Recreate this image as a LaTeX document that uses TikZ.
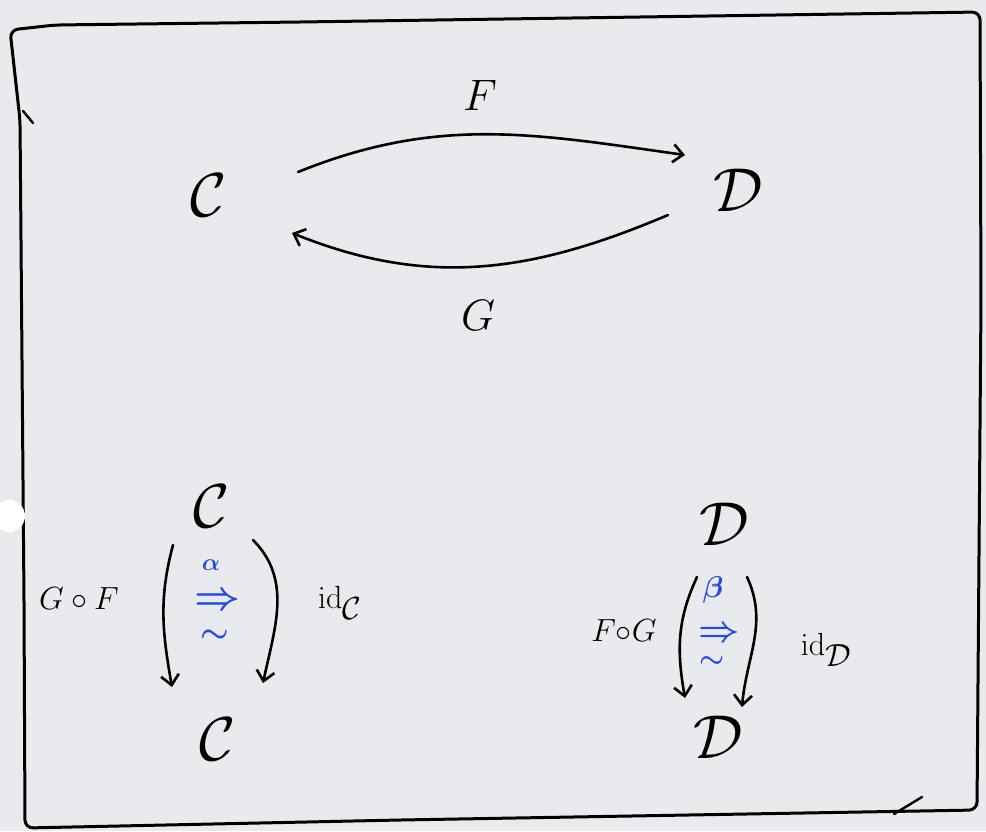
\RequirePackage{fix-cm}
\documentclass[tikz,border=0pt]{standalone}
\usetikzlibrary{arrows.meta}
\definecolor{paper}{RGB}{232,234,237}
\definecolor{inkblue}{RGB}{35,75,225}

\begin{document}
\begin{tikzpicture}[x=1pt, y=-1pt, line width=2.6pt, line cap=round, line join=round,
  cat/.style={anchor=center, inner sep=2pt, font=\fontsize{62}{70}\selectfont},
  lab/.style={anchor=center, inner sep=1pt, font=\fontsize{44}{52}\selectfont},
  comp/.style={anchor=center, inner sep=1pt, font=\fontsize{32}{38}\selectfont},
  nat/.style={anchor=center, inner sep=0pt, text=inkblue, font=\boldmath\fontsize{#1}{#1}\selectfont},
  arr/.style={-{Straight Barb[length=10pt,width=18pt,line width=2.6pt]}},
  ]

  %% ════ 纸面与外框 ════
  \fill[paper] (0,0) rectangle (986,831);
  \draw[line width=3pt, rounded corners=8pt] (10,30) -- (55,25) -- (300,22) -- (980,12) -- (981,300)
    -- (977,810) -- (400,820) -- (25,828) -- (24,600) -- (20,120) -- cycle;
  \draw[line width=2.4pt] (23,111) -- (33,123);      % 左上小勾
  \draw[line width=2.4pt] (894,814) -- (922,797);    % 右下小勾
  \fill[white] (9,516) circle (16);                  % 打孔处

  %% ════ 上半：C 与 D ════
  \node[cat] (C) at (209,195) {$\mathcal{C}$};
  \node[cat] (D) at (738,190) {$\mathcal{D}$};
  \node[lab] (Flab) at (480,95) {$F$};
  \node[lab] (Glab) at (478,315) {$G$};

  \draw[arr] ([shift={(89,-23)}]C.center) to[out=22,in=172] ([shift={(-53,-35)}]D.center);
  \draw[arr] ([shift={(-70,25)}]D.center) to[out=203,in=-22] ([shift={(83,38)}]C.center);

  %% ════ 左下：G∘F ⇒ id_C ════
  \node[cat] (Ct) at (212,506) {$\mathcal{C}$};
  \node[cat] (Cb) at (218,739) {$\mathcal{C}$};
  \node[comp] (GF) at (79,599) {$G\circ F$};
  \node[comp] (idC) at (340,603) {$\mathrm{id}_{\textstyle\mathcal{C}}$};
  \node[nat=24] (alpha) at (211,565) {$\alpha$};
  \node[nat=40] (alto) at (217,602) {$\Rightarrow$};
  \node[nat=32] (aliso) at (215,636) {$\sim$};

  \draw[arr] ([shift={(-39,39)}]Ct.center) to[out=255,in=100] ([shift={(-46,-52)}]Cb.center);
  \draw[arr] ([shift={(41,34)}]Ct.center) to[out=-45,in=78] ([shift={(45,-56)}]Cb.center);

  %% ════ 右下：F∘G ⇒ id_D ════
  \node[cat] (Dt) at (724,524) {$\mathcal{D}$};
  \node[cat] (Db) at (718,737) {$\mathcal{D}$};
  \node[comp] (FG) at (624,631) {$F{\circ}G$};
  \node[comp] (idD) at (826,650) {$\mathrm{id}_{\textstyle\mathcal{D}}$};
  \node[nat=30] (beta) at (713,590) {$\beta$};
  \node[nat=36] (beto) at (719,634) {$\Rightarrow$};
  \node[nat=28] (beiso) at (712,662) {$\sim$};

  \draw[arr] ([shift={(-27,53)}]Dt.center) to[out=245,in=100] ([shift={(-33,-39)}]Db.center);
  \draw[arr] ([shift={(23,53)}]Dt.center) to[out=-65,in=85] ([shift={(24,-30)}]Db.center);

  % 钉死画布
  \pgfresetboundingbox
  \path[use as bounding box] (0,0) rectangle (986,831);
\end{tikzpicture}
\end{document}
